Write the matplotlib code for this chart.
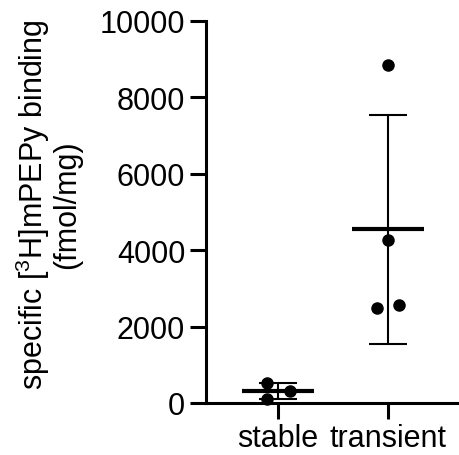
import numpy as np
import matplotlib
matplotlib.use("Agg")
import matplotlib.pyplot as plt

plt.rcParams['font.family'] = ['Liberation Sans', 'DejaVu Sans']
plt.rcParams['mathtext.fontset'] = 'custom'
plt.rcParams['mathtext.rm'] = 'Liberation Sans'
plt.rcParams['mathtext.default'] = 'regular'

categories = ["stable", "transient"]
stable_values = [520, 104, 305]
stable_offsets = [-0.1, -0.1, 0.11]
transient_values = [8854, 4270, 2474, 2578]
transient_offsets = [0.0, 0.0, -0.1, 0.1]
yticks = [0, 2000, 4000, 6000, 8000, 10000]

fig = plt.figure(figsize=(4.6, 4.56), dpi=100)
ax = fig.add_axes([206/460, 52/456, 1 - 206/460, (404-22)/456])

groups = [(stable_values, stable_offsets), (transient_values, transient_offsets)]
for i, (vals, offs) in enumerate(groups):
    vals = np.array(vals, dtype=float)
    xs = i + np.array(offs)
    ax.plot(xs, vals, 'o', color='black', markersize=8, zorder=3, clip_on=False)
    m = vals.mean()
    sd = vals.std(ddof=1)
    ax.hlines(m, i - 0.33, i + 0.33, color='black', linewidth=3, zorder=4)
    ax.vlines(i, m - sd, m + sd, color='black', linewidth=1.5, zorder=2)
    ax.hlines([m - sd, m + sd], i - 0.17, i + 0.17, color='black', linewidth=1.5, zorder=2)

ax.set_xlim(-0.655, 1.655)
ax.set_ylim(0, 10000)
ax.set_xticks([0, 1])
ax.set_xticklabels(categories)
ax.set_yticks(yticks)
ax.set_yticklabels([str(v) for v in yticks])
for s in ['top', 'right']:
    ax.spines[s].set_visible(False)
for s in ['left', 'bottom']:
    ax.spines[s].set_linewidth(2.2)
ax.tick_params(axis='both', length=11.5, width=2.2, labelsize=22)
ax.tick_params(axis='y', pad=3.5)
ax.tick_params(axis='x', pad=3.0)
ax.set_ylabel("specific [$^3$H]mPEPy binding\n(fmol/mg)", fontsize=22, linespacing=1.0)
ax.yaxis.set_label_coords(-0.488, 0.521)

fig.savefig("out.png", dpi=100)
